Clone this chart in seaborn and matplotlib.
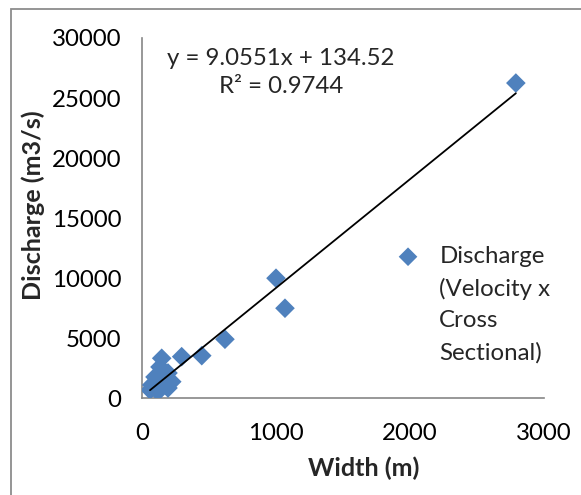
import numpy as np
import matplotlib
matplotlib.use('Agg')
import matplotlib.pyplot as plt
import seaborn as sns
from matplotlib.patches import Rectangle
from matplotlib.offsetbox import HPacker

width_m = [2790, 1000, 1067, 619, 446, 296, 147, 134, 194, 97, 222, 72, 147, 194, 60, 119]
discharge = [26250, 10000, 7500, 4917, 3550, 3467, 3333, 2608, 2108, 1775, 1383, 1108, 967, 858, 692, 550]

# excel linear trendline as printed on the chart
slope = 9.0551
intercept = 134.52
r2 = 0.9744

xticks = [0, 1000, 2000, 3000]
yticks = [0, 5000, 10000, 15000, 20000, 25000, 30000]

sns.set_style('white')
plt.rcParams['font.family'] = ['Lato', 'DejaVu Sans']
fs = 17.3
axis_grey = '#868686'
blue = '#4F81BD'

fig = plt.figure(figsize=(5.81, 4.95), dpi=100)
ax = fig.add_axes([142 / 581, 1 - 398.3 / 495, 402 / 581, 360.3 / 495])

sns.scatterplot(x=width_m, y=discharge, marker='D', s=100, color=blue,
                edgecolor='none', linewidth=0, ax=ax,
                label='Discharge\n(Velocity x\nCross\nSectional)', zorder=3)

xfit = np.array([min(width_m), max(width_m)])
ax.plot(xfit, slope * xfit + intercept, color='black', lw=1.3, zorder=4,
        label='_nolegend_')

ax.set_xlim(0, 3000)
ax.set_ylim(0, 30000)
ax.set_xticks(xticks)
ax.set_yticks(yticks)
ax.tick_params(axis='both', labelsize=fs, colors=axis_grey, labelcolor='black',
               direction='out', length=5, width=1.2)
ax.tick_params(axis='y', pad=10)
ax.tick_params(axis='x', pad=13)
for side in ['top', 'right']:
    ax.spines[side].set_visible(False)
for side in ['left', 'bottom']:
    ax.spines[side].set_color(axis_grey)
    ax.spines[side].set_linewidth(1.2)

ax.set_xlabel('Width (m)', fontsize=fs + 0.8, fontweight='bold', va='center')
ax.set_ylabel('Discharge (m3/s)', fontsize=fs + 0.8, fontweight='bold', va='center')
ax.xaxis.set_label_coords((364 - 142) / 402, (398.3 - 468) / 360.3)
ax.yaxis.set_label_coords((33 - 142) / 402, (398.3 - 205) / 360.3)

ax.text((281 - 142) / 402, (398.3 - 72.5) / 360.3,
        f'y = {slope}x + {intercept}\nR² = {r2}',
        transform=ax.transAxes, ha='center', va='center', multialignment='center',
        fontsize=fs, linespacing=1.45)

leg = ax.legend(loc='upper left', bbox_to_anchor=(384 / 581, 1 - 234 / 495),
                bbox_transform=fig.transFigure, frameon=False, fontsize=fs,
                borderpad=0, handlelength=1.0, handleheight=0.85,
                handletextpad=0.8, markerscale=0.95)
for hp in leg.findobj(HPacker):
    hp.align = 'top'
for t in leg.get_texts():
    t.set_linespacing(1.6)

# chart area border (cut off at right/bottom in the original)
fig.patches.append(Rectangle((11 / 581, -0.2), 1.5, 0.2 + 1 - 9 / 495,
                             transform=fig.transFigure, fill=False,
                             edgecolor='#8c8c8c', lw=1.3))

fig.savefig('out.png', dpi=100)
